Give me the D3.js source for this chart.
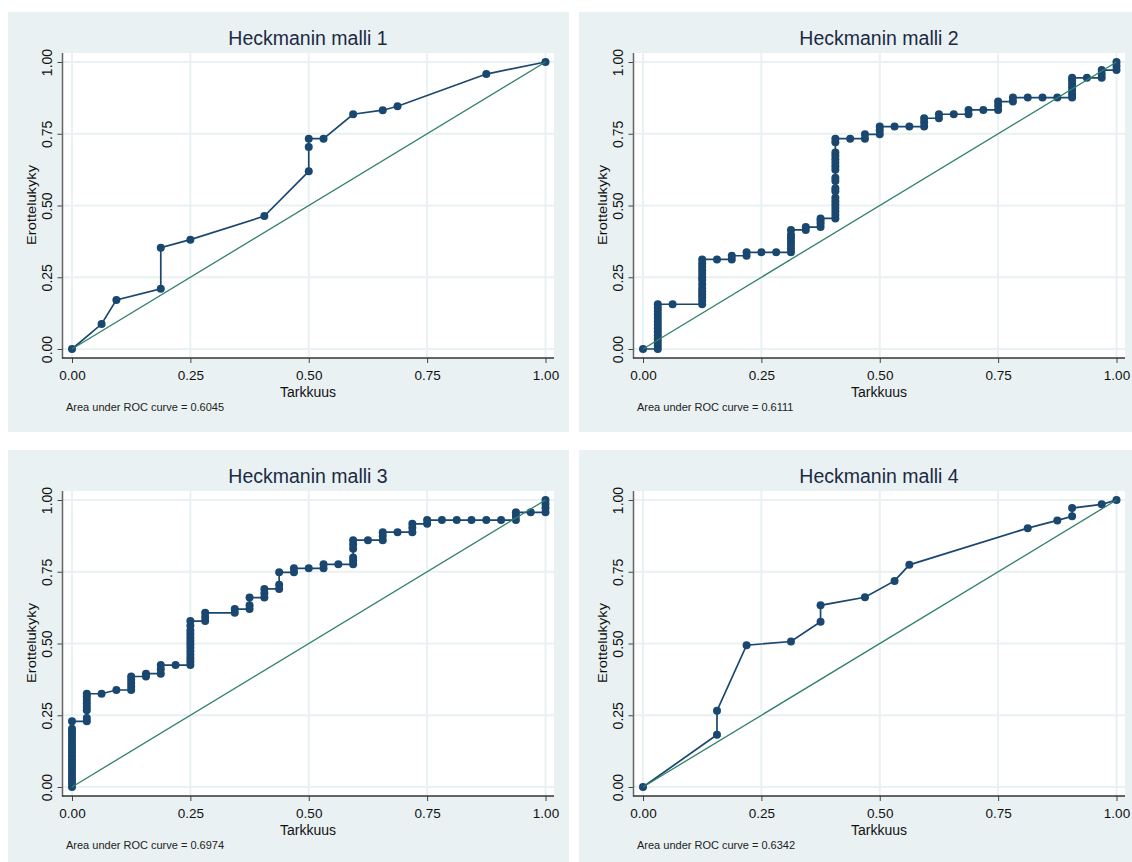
<!DOCTYPE html>
<html><head><meta charset="utf-8">
<script src="https://cdn.jsdelivr.net/npm/d3@7"></script>
<style>html,body{margin:0;padding:0;background:#fff;} svg{display:block;}</style>
</head><body>
<svg id="c" width="1132" height="862"></svg>
<script>
// ---------- data ----------
const titles = ["Heckmanin malli 1", "Heckmanin malli 2", "Heckmanin malli 3", "Heckmanin malli 4"];
const aucValues = ["0.6045", "0.6111", "0.6974", "0.6342"];
const xLabel = "Tarkkuus";
const yLabel = "Erottelukyky";
const tickValues = [0, 0.25, 0.5, 0.75, 1];
const tickLabels = ["0.00", "0.25", "0.50", "0.75", "1.00"];

const roc1 = [
  [0,0],[0.0625,0.087],[0.09375,0.171],[0.1875,0.21],[0.1875,0.353],[0.25,0.381],
  [0.40625,0.463],[0.5,0.619],[0.5,0.704],[0.5,0.733],[0.53125,0.733],[0.59375,0.818],
  [0.65625,0.832],[0.6875,0.846],[0.875,0.958],[1,1]
];

const roc2 = [
  [0,0],
  [0.03125,0],[0.03125,0.012],[0.03125,0.024],[0.03125,0.036],[0.03125,0.048],[0.03125,0.06],
  [0.03125,0.072],[0.03125,0.084],[0.03125,0.096],[0.03125,0.108],[0.03125,0.12],[0.03125,0.132],
  [0.03125,0.144],[0.03125,0.156],
  [0.0625,0.156],
  [0.125,0.156],[0.125,0.168],[0.125,0.18],[0.125,0.19],[0.125,0.2],[0.125,0.212],[0.125,0.226],
  [0.125,0.24],[0.125,0.25],[0.125,0.262],[0.125,0.274],[0.125,0.286],[0.125,0.298],[0.125,0.312],
  [0.15625,0.312],
  [0.1875,0.312],[0.1875,0.325],
  [0.21875,0.325],[0.21875,0.337],
  [0.25,0.337],
  [0.28125,0.337],
  [0.3125,0.337],[0.3125,0.35],[0.3125,0.362],[0.3125,0.374],[0.3125,0.386],[0.3125,0.398],[0.3125,0.415],
  [0.34375,0.415],[0.34375,0.425],
  [0.375,0.425],[0.375,0.437],[0.375,0.447],[0.375,0.455],
  [0.40625,0.455],[0.40625,0.467],[0.40625,0.479],[0.40625,0.491],[0.40625,0.503],[0.40625,0.515],
  [0.40625,0.527],[0.40625,0.55],[0.40625,0.56],[0.40625,0.585],[0.40625,0.597],[0.40625,0.625],
  [0.40625,0.637],[0.40625,0.649],[0.40625,0.661],[0.40625,0.673],[0.40625,0.685],[0.40625,0.72],
  [0.40625,0.733],
  [0.4375,0.733],
  [0.46875,0.733],[0.46875,0.748],
  [0.5,0.748],[0.5,0.762],[0.5,0.775],
  [0.53125,0.775],[0.5625,0.775],
  [0.59375,0.775],[0.59375,0.79],[0.59375,0.804],
  [0.625,0.804],[0.625,0.818],
  [0.65625,0.818],
  [0.6875,0.818],[0.6875,0.833],
  [0.71875,0.833],
  [0.75,0.833],[0.75,0.848],[0.75,0.862],
  [0.78125,0.862],[0.78125,0.876],
  [0.8125,0.876],[0.84375,0.876],[0.875,0.876],
  [0.90625,0.876],[0.90625,0.888],[0.90625,0.9],[0.90625,0.912],[0.90625,0.924],[0.90625,0.936],[0.90625,0.945],
  [0.9375,0.945],
  [0.96875,0.945],[0.96875,0.958],[0.96875,0.972],
  [1,0.972],[1,0.986],[1,1]
];

const roc3 = [
  [0,0],[0,0.012],[0,0.024],[0,0.036],[0,0.048],[0,0.06],[0,0.072],[0,0.084],[0,0.096],[0,0.108],
  [0,0.12],[0,0.132],[0,0.144],[0,0.156],[0,0.168],[0,0.18],[0,0.192],[0,0.203],[0,0.229],
  [0.03125,0.229],[0.03125,0.24],[0.03125,0.267],[0.03125,0.279],[0.03125,0.291],[0.03125,0.303],
  [0.03125,0.315],[0.03125,0.325],
  [0.0625,0.325],
  [0.09375,0.338],
  [0.125,0.338],[0.125,0.35],[0.125,0.362],[0.125,0.374],[0.125,0.385],
  [0.15625,0.385],[0.15625,0.395],
  [0.1875,0.395],[0.1875,0.41],[0.1875,0.425],
  [0.21875,0.425],
  [0.25,0.425],[0.25,0.437],[0.25,0.449],[0.25,0.461],[0.25,0.473],[0.25,0.485],[0.25,0.497],
  [0.25,0.509],[0.25,0.521],[0.25,0.533],[0.25,0.545],[0.25,0.562],[0.25,0.578],
  [0.28125,0.578],[0.28125,0.592],[0.28125,0.607],
  [0.34375,0.607],[0.34375,0.62],
  [0.375,0.62],[0.375,0.633],[0.375,0.66],
  [0.40625,0.66],[0.40625,0.675],[0.40625,0.69],
  [0.4375,0.69],[0.4375,0.705],[0.4375,0.748],
  [0.46875,0.748],[0.46875,0.762],
  [0.5,0.762],
  [0.53125,0.762],[0.53125,0.776],
  [0.5625,0.776],
  [0.59375,0.776],[0.59375,0.788],[0.59375,0.8],[0.59375,0.83],[0.59375,0.845],[0.59375,0.86],
  [0.625,0.86],
  [0.65625,0.86],[0.65625,0.875],[0.65625,0.888],
  [0.6875,0.888],
  [0.71875,0.888],[0.71875,0.903],[0.71875,0.917],
  [0.75,0.917],[0.75,0.93],
  [0.78125,0.93],[0.8125,0.93],[0.84375,0.93],[0.875,0.93],[0.90625,0.93],
  [0.9375,0.93],[0.9375,0.945],[0.9375,0.957],
  [0.96875,0.957],
  [1,0.957],[1,0.972],[1,0.986],[1,1]
];

const roc4 = [
  [0,0],[0.15625,0.182],[0.15625,0.266],[0.21875,0.494],[0.3125,0.507],[0.375,0.576],
  [0.375,0.633],[0.46875,0.661],[0.53125,0.718],[0.5625,0.774],[0.8125,0.902],[0.875,0.929],
  [0.90625,0.943],[0.90625,0.972],[0.96875,0.985],[1,1]
];

const rocSeries = [roc1, roc2, roc3, roc4];

// ---------- drawing ----------
const FONT = "'Liberation Sans', Arial, Helvetica, sans-serif";
const BG = "#e9f1f3";
const GRID = "#e9f1f3";
const NAVY = "#1a476f";
const GREEN = "#2f806a";

const svg = d3.select("#c");
const offsets = [[0,0],[571,0],[0,438],[571,438]];

rocSeries.forEach((data, i) => {
  const [ox, oy] = offsets[i];
  const g = svg.append("g").attr("transform", `translate(${ox},${oy})`);

  g.append("rect").attr("x", 8).attr("y", 12).attr("width", 561).attr("height", 420).attr("fill", BG);
  g.append("rect").attr("x", 63).attr("y", 53).attr("width", 491).attr("height", 305).attr("fill", "#fff");

  const x = d3.scaleLinear().domain([0, 1]).range([72, 545.5]);
  const y = d3.scaleLinear().domain([0, 1]).range([349, 62]);

  // gridlines
  g.append("g").selectAll("line.h").data(tickValues).join("line")
    .attr("x1", 63).attr("x2", 554).attr("y1", d => y(d)).attr("y2", d => y(d))
    .attr("stroke", GRID).attr("stroke-width", 2);
  g.append("g").selectAll("line.v").data(tickValues).join("line")
    .attr("y1", 53).attr("y2", 358).attr("x1", d => x(d)).attr("x2", d => x(d))
    .attr("stroke", GRID).attr("stroke-width", 2);

  // axes
  const yAxis = g.append("g").attr("transform", "translate(62.5,0)")
    .call(d3.axisLeft(y).tickValues(tickValues).tickFormat((d, k) => tickLabels[k]).tickSize(5));
  yAxis.select(".domain").remove();
  yAxis.selectAll(".tick line").attr("stroke", "#444");
  yAxis.selectAll(".tick text")
    .attr("transform", "rotate(-90)").attr("x", 0).attr("y", -10.5).attr("dy", 0)
    .attr("text-anchor", "middle").attr("fill", "#111")
    .style("font-family", FONT).style("font-size", "14px");

  const xAxis = g.append("g").attr("transform", "translate(0,358)")
    .call(d3.axisBottom(x).tickValues(tickValues).tickFormat((d, k) => tickLabels[k]).tickSize(5));
  xAxis.select(".domain").remove();
  xAxis.selectAll(".tick line").attr("stroke", "#444");
  xAxis.selectAll(".tick text")
    .attr("y", 22).attr("dy", 0).attr("fill", "#111")
    .style("font-family", FONT).style("font-size", "13.5px");

  g.append("line").attr("x1", 62.5).attr("x2", 62.5).attr("y1", 53).attr("y2", 358.5)
    .attr("stroke", "#666").attr("stroke-width", 1.5);
  g.append("line").attr("x1", 62).attr("x2", 554).attr("y1", 358).attr("y2", 358)
    .attr("stroke", "#333").attr("stroke-width", 1.5);

  // curve
  const line = d3.line().x(d => x(d[0])).y(d => y(d[1]));
  g.append("path").datum(data).attr("d", line)
    .attr("fill", "none").attr("stroke", NAVY).attr("stroke-width", 1.7);
  g.append("g").selectAll("circle").data(data).join("circle")
    .attr("cx", d => x(d[0])).attr("cy", d => y(d[1])).attr("r", 4)
    .attr("fill", NAVY);

  // reference line
  g.append("path").datum([[0,0],[1,1]]).attr("d", line)
    .attr("fill", "none").attr("stroke", GREEN).attr("stroke-width", 1.3);

  // texts
  g.append("text").attr("x", 308).attr("y", 45).attr("text-anchor", "middle")
    .attr("fill", "#1c2a44").style("font-family", FONT).style("font-size", "19.5px")
    .text(titles[i]);
  g.append("text").attr("x", 308).attr("y", 397).attr("text-anchor", "middle")
    .attr("fill", "#111").style("font-family", FONT).style("font-size", "14px")
    .text(xLabel);
  g.append("text").attr("transform", "translate(36,205) rotate(-90)").attr("text-anchor", "middle")
    .attr("fill", "#111").style("font-family", FONT).style("font-size", "12px")
    .attr("textLength", 80).attr("lengthAdjust", "spacingAndGlyphs")
    .text(yLabel);
  g.append("text").attr("x", 66).attr("y", 411)
    .attr("fill", "#222").style("font-family", FONT).style("font-size", "11px")
    .text("Area under ROC curve = " + aucValues[i]);
});
</script>
</body></html>
